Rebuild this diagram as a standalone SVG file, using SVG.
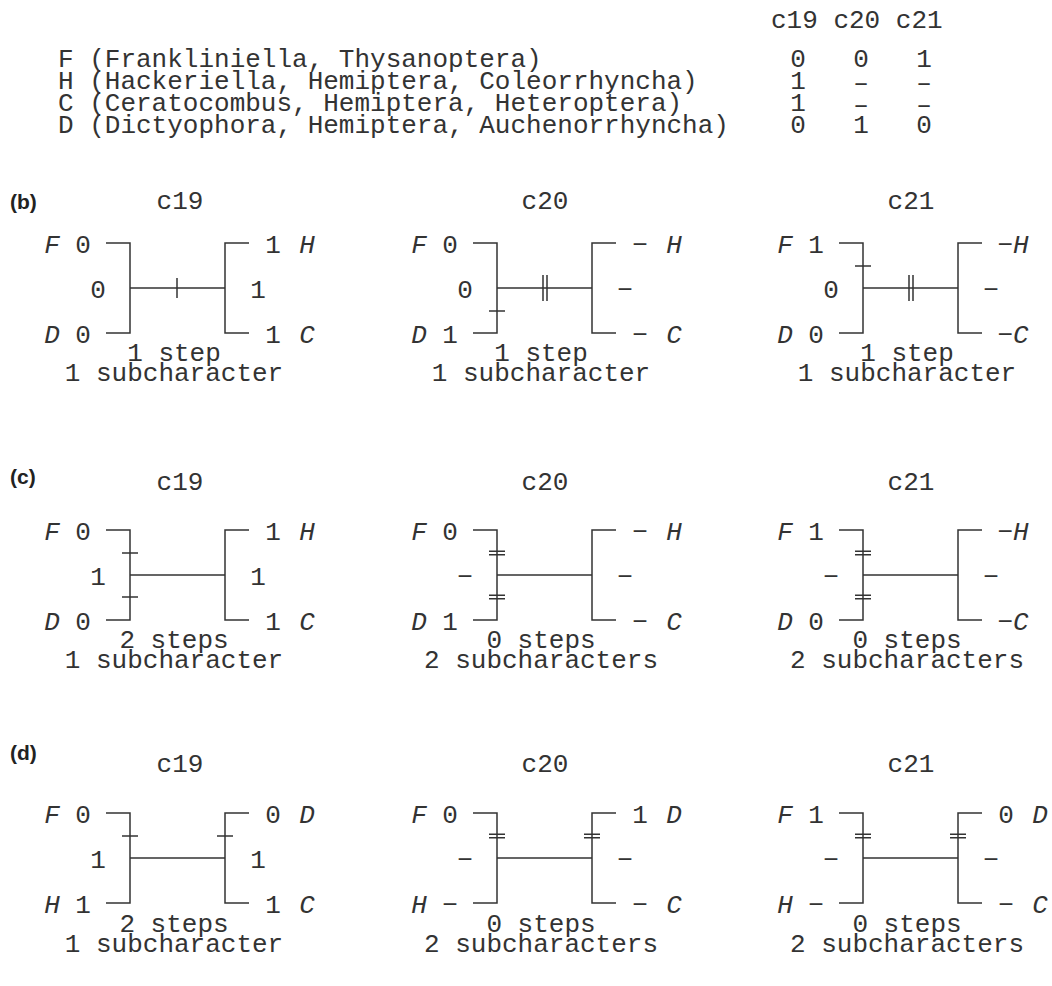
<svg xmlns="http://www.w3.org/2000/svg" width="1052" height="986" viewBox="0 0 1052 986">
<style>
.t{font-family:"Liberation Mono","Courier New",monospace;font-size:26px;fill:#333}
.m{text-anchor:middle}
.i{font-style:italic}
.p{font-family:"Liberation Sans",Arial,sans-serif;font-weight:bold;font-size:21px;fill:#222}
.ln{stroke:#333;stroke-width:1.5;fill:none}
</style>
<defs>
<path id="tree" d="M-24,0H0V90H-24M0,45H95M119,0H95V90H119"/>
<path id="tk1v" d="M0,-10V10"/>
<path id="tk2v" d="M-2,-13V13M2,-13V13"/>
<path id="tk1h" d="M-8,0H8"/>
<path id="tk2h" d="M-8,-1.8H8M-8,1.8H8"/>
</defs>
<rect width="1052" height="986" fill="#fff"/>

<g id="table" class="t">
<text x="771" y="28">c19 c20 c21</text>
<text x="58" y="67">F (Frankliniella, Thysanoptera)</text>
<text x="58" y="89">H (Hackeriella, Hemiptera, Coleorrhyncha)</text>
<text x="58" y="111">C (Ceratocombus, Hemiptera, Heteroptera)</text>
<text x="58" y="133">D (Dictyophora, Hemiptera, Auchenorrhyncha)</text>
<g class="m">
<text x="798" y="67">0</text><text x="861" y="67">0</text><text x="924" y="67">1</text>
<text x="798" y="89">1</text><text x="861" y="91">–</text><text x="924" y="91">–</text>
<text x="798" y="111">1</text><text x="861" y="113">–</text><text x="924" y="113">–</text>
<text x="798" y="133">0</text><text x="861" y="133">1</text><text x="924" y="133">0</text>
</g>
</g>

<g id="panel-labels" class="p">
<text x="10" y="209">(b)</text>
<text x="10" y="484">(c)</text>
<text x="10" y="760">(d)</text>
</g>

<!-- row b -->
<g id="b-c19" transform="translate(130,243)">
<g class="connectors ln"><use href="#tree"/><use href="#tk1v" x="47" y="45"/></g>
<g class="t m">
<text x="50" y="-34">c19</text>
<text class="i" x="-78" y="10">F</text><text x="-47" y="10">0</text>
<text x="-32" y="55">0</text>
<text class="i" x="-78" y="100">D</text><text x="-47" y="100">0</text>
<text x="143" y="10">1</text><text class="i" x="177" y="10">H</text>
<text x="128" y="55">1</text>
<text x="143" y="100">1</text><text class="i" x="177" y="100">C</text>
<text x="44" y="118">1 step<tspan x="44" dy="20">1 subcharacter</tspan></text>
</g>
</g>

<g id="b-c20" transform="translate(497,243)">
<g class="connectors ln"><use href="#tree"/><use href="#tk2v" x="48" y="45"/><use href="#tk1h" x="0" y="68"/></g>
<g class="t m">
<text x="48" y="-34">c20</text>
<text class="i" x="-78" y="10">F</text><text x="-47" y="10">0</text>
<text x="-32" y="55">0</text>
<text class="i" x="-78" y="100">D</text><text x="-47" y="100">1</text>
<text x="143" y="10">−</text><text class="i" x="177" y="10">H</text>
<text x="128" y="55">−</text>
<text x="143" y="100">−</text><text class="i" x="177" y="100">C</text>
<text x="44" y="118">1 step<tspan x="44" dy="20">1 subcharacter</tspan></text>
</g>
</g>

<g id="b-c21" transform="translate(863,243)">
<g class="connectors ln"><use href="#tree"/><use href="#tk2v" x="48" y="45"/><use href="#tk1h" x="0" y="23"/></g>
<g class="t m">
<text x="48" y="-34">c21</text>
<text class="i" x="-78" y="10">F</text><text x="-47" y="10">1</text>
<text x="-32" y="55">0</text>
<text class="i" x="-78" y="100">D</text><text x="-47" y="100">0</text>
<text x="150" y="10">−<tspan class="i">H</tspan></text>
<text x="128" y="55">−</text>
<text x="150" y="100">−<tspan class="i">C</tspan></text>
<text x="44" y="118">1 step<tspan x="44" dy="20">1 subcharacter</tspan></text>
</g>
</g>

<!-- row c -->
<g id="c-c19" transform="translate(130,530)">
<g class="connectors ln"><use href="#tree"/><use href="#tk1h" x="0" y="23"/><use href="#tk1h" x="0" y="67"/></g>
<g class="t m">
<text x="50" y="-40">c19</text>
<text class="i" x="-78" y="10">F</text><text x="-47" y="10">0</text>
<text x="-32" y="55">1</text>
<text class="i" x="-78" y="100">D</text><text x="-47" y="100">0</text>
<text x="143" y="10">1</text><text class="i" x="177" y="10">H</text>
<text x="128" y="55">1</text>
<text x="143" y="100">1</text><text class="i" x="177" y="100">C</text>
<text x="44" y="118">2 steps<tspan x="44" dy="20">1 subcharacter</tspan></text>
</g>
</g>

<g id="c-c20" transform="translate(497,530)">
<g class="connectors ln"><use href="#tree"/><use href="#tk2h" x="0" y="23"/><use href="#tk2h" x="0" y="67"/></g>
<g class="t m">
<text x="48" y="-40">c20</text>
<text class="i" x="-78" y="10">F</text><text x="-47" y="10">0</text>
<text x="-32" y="55">−</text>
<text class="i" x="-78" y="100">D</text><text x="-47" y="100">1</text>
<text x="143" y="10">−</text><text class="i" x="177" y="10">H</text>
<text x="128" y="55">−</text>
<text x="143" y="100">−</text><text class="i" x="177" y="100">C</text>
<text x="44" y="118">0 steps<tspan x="44" dy="20">2 subcharacters</tspan></text>
</g>
</g>

<g id="c-c21" transform="translate(863,530)">
<g class="connectors ln"><use href="#tree"/><use href="#tk2h" x="0" y="23"/><use href="#tk2h" x="0" y="67"/></g>
<g class="t m">
<text x="48" y="-40">c21</text>
<text class="i" x="-78" y="10">F</text><text x="-47" y="10">1</text>
<text x="-32" y="55">−</text>
<text class="i" x="-78" y="100">D</text><text x="-47" y="100">0</text>
<text x="150" y="10">−<tspan class="i">H</tspan></text>
<text x="128" y="55">−</text>
<text x="150" y="100">−<tspan class="i">C</tspan></text>
<text x="44" y="118">0 steps<tspan x="44" dy="20">2 subcharacters</tspan></text>
</g>
</g>

<!-- row d -->
<g id="d-c19" transform="translate(130,813)">
<g class="connectors ln"><use href="#tree"/><use href="#tk1h" x="0" y="23"/><use href="#tk1h" x="95" y="23"/></g>
<g class="t m">
<text x="50" y="-41">c19</text>
<text class="i" x="-78" y="10">F</text><text x="-47" y="10">0</text>
<text x="-32" y="55">1</text>
<text class="i" x="-78" y="100">H</text><text x="-47" y="100">1</text>
<text x="143" y="10">0</text><text class="i" x="177" y="10">D</text>
<text x="128" y="55">1</text>
<text x="143" y="100">1</text><text class="i" x="177" y="100">C</text>
<text x="44" y="119">2 steps<tspan x="44" dy="20">1 subcharacter</tspan></text>
</g>
</g>

<g id="d-c20" transform="translate(497,813)">
<g class="connectors ln"><use href="#tree"/><use href="#tk2h" x="0" y="23"/><use href="#tk2h" x="95" y="23"/></g>
<g class="t m">
<text x="48" y="-41">c20</text>
<text class="i" x="-78" y="10">F</text><text x="-47" y="10">0</text>
<text x="-32" y="55">−</text>
<text class="i" x="-78" y="100">H</text><text x="-47" y="100">−</text>
<text x="143" y="10">1</text><text class="i" x="177" y="10">D</text>
<text x="128" y="55">−</text>
<text x="143" y="100">−</text><text class="i" x="177" y="100">C</text>
<text x="44" y="119">0 steps<tspan x="44" dy="20">2 subcharacters</tspan></text>
</g>
</g>

<g id="d-c21" transform="translate(863,813)">
<g class="connectors ln"><use href="#tree"/><use href="#tk2h" x="0" y="23"/><use href="#tk2h" x="95" y="23"/></g>
<g class="t m">
<text x="48" y="-41">c21</text>
<text class="i" x="-78" y="10">F</text><text x="-47" y="10">1</text>
<text x="-32" y="55">−</text>
<text class="i" x="-78" y="100">H</text><text x="-47" y="100">−</text>
<text x="143" y="10">0</text><text class="i" x="177" y="10">D</text>
<text x="128" y="55">−</text>
<text x="143" y="100">−</text><text class="i" x="177" y="100">C</text>
<text x="44" y="119">0 steps<tspan x="44" dy="20">2 subcharacters</tspan></text>
</g>
</g>
</svg>
